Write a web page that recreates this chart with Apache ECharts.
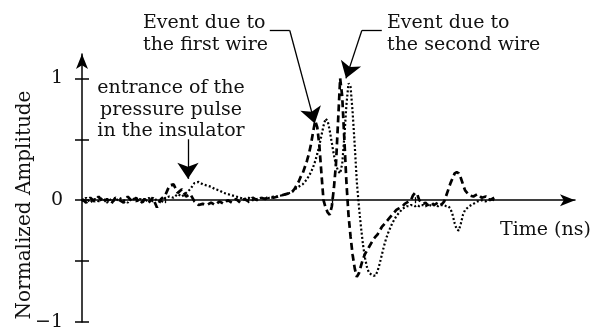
<!DOCTYPE html>
<html><head><meta charset="utf-8">
<script src="https://cdn.jsdelivr.net/npm/echarts@6/dist/echarts.min.js"></script>
<style>html,body{margin:0;padding:0;background:#fff}#c{width:603px;height:327px}</style>
</head><body><div id="c"></div>
<script>
// sample times (ns)
const timeNs = [
  0,10,20,30,40,50,60,70,80,90,100,110,120,130,140,150,160,170,180,190,
  200,210,220,230,240,250,260,270,280,290,300,310,320,330,340,350,360,370,380,390,
  400,410,420,430,440,450,460,470,480,490,
  500,505,510,515,520,525,530,535,540,545,550,555,560,565,570,575,580,585,590,595,
  600,605,610,615,620,625,630,635,640,645,650,655,660,665,670,675,680,685,690,695,
  700,705,710,715,720,725,730,735,740,745,750,755,760,765,770,775,780,785,790,795,
  800,805,810,815,820,825,830,835,840,845,850,855,860,865,870,875,880,885,890,895,
  900,905,910,915,920,
  930,940,950,960,970,980,990
];
// dashed trace (normalized amplitude)
const dashedAmp = [
  0.01,-0.02,0.02,-0.01,0.03,-0.02,0.01,-0.03,0.02,0.00,-0.02,0.03,-0.01,0.02,-0.03,0.01,-0.02,0.02,-0.06,0.01,
  0.04,0.12,0.13,0.06,0.09,0.03,0.05,-0.01,-0.04,-0.03,-0.04,-0.02,-0.04,-0.01,-0.03,0.00,-0.02,0.01,-0.02,0.01,
  -0.01,0.02,0.00,0.02,0.01,0.03,0.02,0.03,0.04,0.05,
  0.06,0.07,0.09,0.12,0.15,0.19,0.22,0.27,0.32,0.38,0.46,0.56,0.65,0.60,0.45,0.22,0.00,-0.06,-0.10,-0.12,
  -0.05,0.10,0.30,0.65,1.00,0.85,0.50,0.15,-0.12,-0.30,-0.45,-0.56,-0.63,-0.60,-0.54,-0.48,-0.44,-0.41,-0.38,-0.35,
  -0.32,-0.30,-0.28,-0.25,-0.22,-0.20,-0.18,-0.16,-0.14,-0.12,-0.10,-0.08,-0.07,-0.06,-0.05,-0.03,-0.02,-0.01,0.00,0.04,
  0.06,0.05,0.00,-0.02,-0.03,-0.02,-0.04,-0.03,-0.02,-0.04,-0.03,-0.02,-0.04,-0.03,-0.01,0.04,0.09,0.14,0.18,0.22,
  0.23,0.22,0.18,0.13,0.08,
  0.04,0.03,0.05,0.02,0.03,0.00,0.02
];
// dotted trace (normalized amplitude)
const dottedAmp = [
  -0.01,0.02,-0.02,0.01,-0.01,0.02,-0.02,0.01,-0.01,0.02,0.00,-0.02,0.02,-0.01,0.01,-0.02,0.02,-0.01,0.01,-0.02,
  0.02,0.03,0.02,0.05,0.03,0.06,0.09,0.14,0.15,0.13,0.12,0.11,0.09,0.08,0.06,0.05,0.04,0.03,0.02,0.01,
  0.02,0.00,0.01,0.02,0.01,0.02,0.03,0.03,0.04,0.05,
  0.06,0.07,0.08,0.10,0.11,0.12,0.13,0.15,0.17,0.20,0.23,0.27,0.32,0.38,0.45,0.53,0.61,0.67,0.65,0.57,
  0.47,0.37,0.29,0.24,0.22,0.30,0.52,0.78,0.96,0.93,0.72,0.45,0.15,-0.05,-0.22,-0.37,-0.48,-0.56,-0.60,-0.61,
  -0.62,-0.62,-0.58,-0.52,-0.45,-0.38,-0.32,-0.27,-0.23,-0.19,-0.16,-0.13,-0.11,-0.09,-0.07,-0.06,-0.05,-0.05,-0.04,-0.04,
  -0.05,-0.04,-0.05,-0.04,-0.04,-0.05,-0.04,-0.04,-0.05,-0.04,-0.04,-0.05,-0.04,-0.04,-0.04,-0.05,-0.05,-0.07,-0.12,-0.19,
  -0.24,-0.25,-0.19,-0.12,-0.08,
  -0.05,-0.03,-0.01,0.00,-0.01,0.01,0.00
];
const xTickValues = [200, 400, 600, 800];
const yTickValues = [-1, -0.5, 0, 0.5, 1];
const yLabelValues = [-1, 0, 1];
// annotation arrows in data coordinates [ns, amplitude]
const arrowSegments = [
  [[499, 1.393], [559, 0.63]],
  [[672, 1.393], [634, 1.0]],
  [[254.5, 0.50], [254.5, 0.175]]
];
const leaderSegments = [
  [[451, 1.393], [499, 1.393]],
  [[720, 1.393], [672, 1.393]]
];

const FONT = '"DejaVu Serif", serif';
const chart = echarts.init(document.getElementById('c'));
const axisColor = '#000';
const xMax = 1184, yMin = -1, yMax = 1.2;

chart.setOption({
  animation: false,
  backgroundColor: '#fff',
  grid: { left: 82, right: 28, top: 54, bottom: 5, outerBoundsMode: 'none', containLabel: false },
  xAxis: [{
    type: 'value', min: 0, max: xMax, position: 'bottom',
    axisLine: { show: true, onZero: true, symbol: ['none', 'arrow'], symbolSize: [9, 15], lineStyle: { color: axisColor, width: 1.5 } },
    axisTick: { show: true, customValues: xTickValues, length: 3, lineStyle: { color: axisColor, width: 1.3 } },
    axisLabel: { show: true, customValues: xTickValues, margin: 20, color: '#111', fontFamily: FONT, fontSize: 19 },
    splitLine: { show: false }
  }, {
    type: 'value', min: 0, max: xMax, position: 'bottom',
    axisLine: { show: false, onZero: true },
    axisTick: { show: true, inside: true, customValues: xTickValues, length: 3, lineStyle: { color: axisColor, width: 1.3 } },
    axisLabel: { show: false }, splitLine: { show: false }
  }],
  yAxis: [{
    type: 'value', min: yMin, max: yMax, position: 'left',
    axisLine: { show: true, onZero: true, symbol: ['none', 'arrow'], symbolSize: [9, 15], lineStyle: { color: axisColor, width: 1.5 } },
    axisTick: { show: true, customValues: yTickValues, length: 7, lineStyle: { color: axisColor, width: 1.5 } },
    axisLabel: { show: true, customValues: yLabelValues, margin: 19, color: '#111', fontFamily: FONT, fontSize: 19,
      formatter: v => v < 0 ? '\u2212' + Math.abs(v) : String(v) },
    splitLine: { show: false }
  }, {
    type: 'value', min: yMin, max: yMax, position: 'left',
    axisLine: { show: false, onZero: true },
    axisTick: { show: true, inside: true, customValues: yTickValues, length: 7, lineStyle: { color: axisColor, width: 1.5 } },
    axisLabel: { show: false }, splitLine: { show: false }
  }],
  series: [{
    type: 'line', name: 'dashed trace', xAxisIndex: 0, yAxisIndex: 0,
    data: timeNs.map((t, i) => [t, dashedAmp[i]]),
    symbol: 'none', showSymbol: false, clip: false, z: 3,
    lineStyle: { color: '#000', width: 2.7, type: [7, 4] }
  }, {
    type: 'line', name: 'dotted trace', xAxisIndex: 0, yAxisIndex: 0,
    data: timeNs.map((t, i) => [t, dottedAmp[i]]),
    symbol: 'none', showSymbol: false, clip: false, z: 3,
    lineStyle: { color: '#000', width: 2.2, type: [2, 2.2] }
  }, {
    type: 'lines', coordinateSystem: 'cartesian2d', xAxisIndex: 0, yAxisIndex: 0, clip: false,
    symbol: ['none', 'arrow'], symbolSize: [8, 16],
    lineStyle: { color: '#000', width: 1.3, opacity: 1, curveness: 0 },
    data: arrowSegments.map(c => ({ coords: c }))
  }, {
    type: 'lines', coordinateSystem: 'cartesian2d', xAxisIndex: 0, yAxisIndex: 0, clip: false,
    symbol: ['none', 'none'],
    lineStyle: { color: '#000', width: 1.3, opacity: 1, curveness: 0 },
    data: leaderSegments.map(c => ({ coords: c }))
  }],
  graphic: [
    { type: 'text', x: 143, y: 34, style: { text: 'Event due to\nthe first wire', font: '19px ' + FONT, fill: '#111', align: 'left', verticalAlign: 'middle', lineHeight: 22 } },
    { type: 'text', x: 387, y: 34, style: { text: 'Event due to\nthe second wire', font: '19px ' + FONT, fill: '#111', align: 'left', verticalAlign: 'middle', lineHeight: 22 } },
    { type: 'text', x: 171, y: 110, style: { text: 'entrance of the\npressure pulse\nin the insulator', font: '19px ' + FONT, fill: '#111', align: 'center', verticalAlign: 'middle', lineHeight: 21.5 } },
    { type: 'text', x: 500, y: 230, style: { text: 'Time (ns)', font: '19px ' + FONT, fill: '#111', align: 'left', verticalAlign: 'middle' } },
    { type: 'text', x: 25, y: 205, rotation: Math.PI / 2, style: { text: 'Normalized Amplitude', font: '20px ' + FONT, fill: '#111', align: 'center', verticalAlign: 'middle' } }
  ]
});
</script></body></html>
